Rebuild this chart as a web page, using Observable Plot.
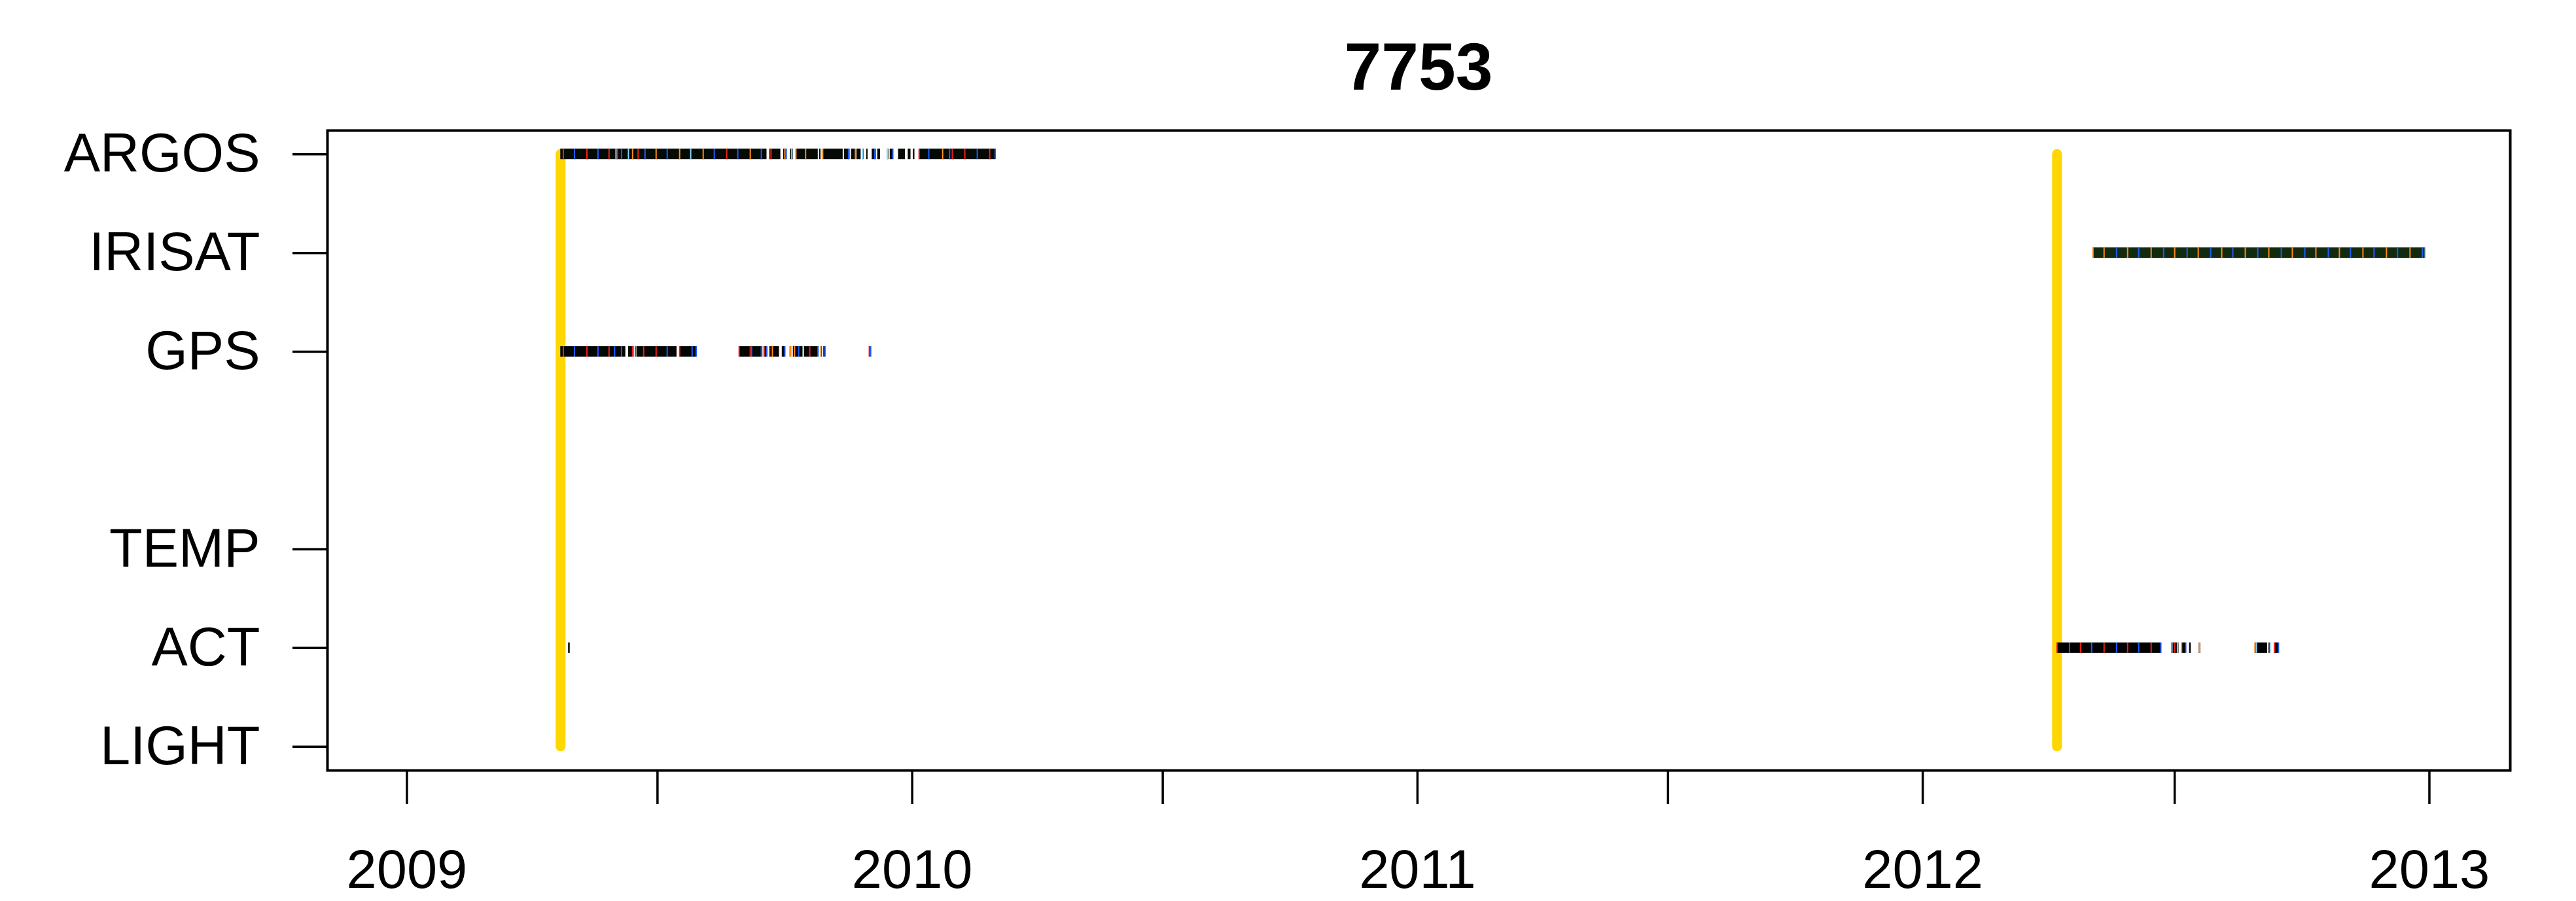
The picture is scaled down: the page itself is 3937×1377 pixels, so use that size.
<!DOCTYPE html>
<html>
<head>
<meta charset="utf-8">
<script src="https://cdn.jsdelivr.net/npm/d3@7"></script>
<script src="https://cdn.jsdelivr.net/npm/@observablehq/plot@0.6"></script>
<style>
  html, body { margin: 0; padding: 0; background: #ffffff; }
  #title { position: relative; width: 3937px; height: 160px; font-family: "Liberation Sans", Arial, sans-serif; }
  #title span { position: absolute; left: 500px; width: 3336px; top: 51px; text-align: center;
                font-weight: bold; font-size: 102px; line-height: 102px; color: #000; }
  #chart svg { display: block; }
</style>
</head>
<body>
<div id="title"><span>7753</span></div>
<div id="chart"></div>
<script>
// ---------------- data ----------------
const titleText = "7753";
const levelValues = [1, 2, 3, 5, 6, 7];
const levelLabels = ["LIGHT", "ACT", "TEMP", "GPS", "IRISAT", "ARGOS"];
const xLimits = ["2009-01-02", "2013-01-01"];
const xTickDates = ["2009-01-01", "2009-07-01", "2010-01-01", "2010-07-01", "2011-01-01",
                    "2011-07-01", "2012-01-01", "2012-07-01", "2013-01-01"];
const deployments = ["2009-04-22", "2012-04-07"];

// recording periods (start, end) per sensor
const argosBlocks = [
  ["2009-04-22", "2009-09-18"], ["2009-09-20", "2009-09-28"], ["2009-09-30", "2009-10-02"],
  ["2009-10-05", "2009-10-07"], ["2009-10-09", "2009-10-25"], ["2009-10-26", "2009-10-27"],
  ["2009-10-29", "2009-11-12"], ["2009-11-13", "2009-11-17"], ["2009-11-18", "2009-11-21"],
  ["2009-11-22", "2009-11-25"], ["2009-11-26", "2009-11-27"], ["2009-11-29", "2009-11-30"],
  ["2009-12-03", "2009-12-06"], ["2009-12-07", "2009-12-09"], ["2009-12-14", "2009-12-15"],
  ["2009-12-16", "2009-12-18"], ["2009-12-22", "2009-12-27"], ["2009-12-29", "2009-12-31"],
  ["2010-01-06", "2010-03-02"]
];
const irisatBlocks = [["2012-05-03", "2012-12-29"]];
const gpsBlocks = [
  ["2009-04-22", "2009-06-08"], ["2009-06-10", "2009-06-14"], ["2009-06-16", "2009-07-15"],
  ["2009-07-17", "2009-07-29"], ["2009-08-29", "2009-09-15"], ["2009-09-16", "2009-09-18"],
  ["2009-09-20", "2009-09-27"], ["2009-09-29", "2009-10-01"], ["2009-10-07", "2009-10-14"],
  ["2009-10-15", "2009-10-25"], ["2009-10-27", "2009-10-28"], ["2009-10-29", "2009-10-30"],
  ["2009-12-01", "2009-12-02"]
];
const actBlocks = [
  ["2012-04-07", "2012-06-21"], ["2012-07-01", "2012-07-04"], ["2012-07-06", "2012-07-09"],
  ["2012-08-28", "2012-09-06"], ["2012-09-07", "2012-09-08"], ["2012-09-11", "2012-09-14"]
];

// isolated single records per sensor
const argosSingles = ["2010-01-02"];
const gpsSingles = ["2009-10-05"];
const actSingles = ["2009-04-28", "2012-06-29", "2012-06-30", "2012-07-12", "2012-07-19"];

// coloured records (date, colour class) per sensor
const argosColored = [
  ["2009-04-24","red"],["2009-05-02","blue"],["2009-05-11","red"],["2009-05-19","blue"],
  ["2009-05-27","red"],["2009-06-01","light"],["2009-06-02","red"],["2009-06-05","blue"],
  ["2009-06-10","light"],["2009-06-13","orange"],["2009-06-17","red"],["2009-06-22","blue"],
  ["2009-06-30","orange"],["2009-07-08","blue"],["2009-07-17","orange"],["2009-07-25","light"],
  ["2009-08-03","orange"],["2009-08-11","blue"],["2009-08-20","red"],["2009-08-28","blue"],
  ["2009-09-06","orange"],["2009-09-14","blue"],["2009-09-21","red"],["2009-10-01","orange"],
  ["2009-10-02","blue"],["2009-10-06","light"],["2009-10-09","orange"],["2009-10-16","orange"],
  ["2009-10-28","orange"],["2009-11-16","blue"],["2009-11-21","orange"],["2009-11-26","light"],
  ["2009-12-05","blue"],["2009-12-14","light"],["2009-12-18","blue"],
  ["2010-01-06","red"],["2010-01-13","blue"],["2010-01-23","orange"],["2010-01-28","blue"],
  ["2010-01-30","red"],["2010-02-08","red"],["2010-02-17","blue"],["2010-02-26","red"],
  ["2010-03-02","blue"]
];
const irisatColored = [
  ["2012-05-03","orange"],["2012-05-11","orange"],["2012-05-20","blue"],["2012-05-28","orange"],
  ["2012-06-05","blue"],["2012-06-14","orange"],["2012-06-23","blue"],["2012-07-01","orange"],
  ["2012-07-10","blue"],["2012-07-18","orange"],["2012-07-27","blue"],["2012-08-04","orange"],
  ["2012-08-12","blue"],["2012-08-21","orange"],["2012-08-30","blue"],["2012-09-07","orange"],
  ["2012-09-16","blue"],["2012-09-24","orange"],["2012-10-03","blue"],["2012-10-11","orange"],
  ["2012-10-20","blue"],["2012-10-28","orange"],["2012-11-05","blue"],["2012-11-14","orange"],
  ["2012-11-22","blue"],["2012-12-01","orange"],["2012-12-09","blue"],["2012-12-18","orange"],
  ["2012-12-27","blue"],["2012-12-29","light"]
];
const gpsColored = [
  ["2009-04-24","red"],["2009-05-02","blue"],["2009-05-11","red"],["2009-05-19","blue"],
  ["2009-05-27","red"],["2009-05-31","blue"],["2009-06-05","blue"],["2009-06-13","red"],
  ["2009-06-15","blue"],["2009-06-21","red"],["2009-06-30","red"],["2009-07-08","blue"],
  ["2009-07-17","red"],["2009-07-26","blue"],["2009-07-29","blue"],["2009-08-29","red"],
  ["2009-09-06","red"],["2009-09-07","blue"],["2009-09-14","blue"],["2009-09-16","red"],
  ["2009-09-18","blue"],["2009-09-20","red"],["2009-09-22","orange"],["2009-10-01","blue"],
  ["2009-10-05","orange"],["2009-10-08","orange"],["2009-10-11","blue"],["2009-10-19","red"],
  ["2009-10-25","blue"],["2009-10-27","orange"],["2009-10-30","blue"],["2009-12-01","red"],
  ["2009-12-02","blue"]
];
const actColored = [
  ["2012-04-07","red"],["2012-04-16","blue"],["2012-04-24","red"],["2012-05-02","blue"],
  ["2012-05-11","red"],["2012-05-20","blue"],["2012-05-28","red"],["2012-06-05","blue"],
  ["2012-06-14","red"],["2012-06-21","blue"],["2012-06-29","light"],["2012-07-01","red"],
  ["2012-07-03","light"],["2012-07-06","orange"],["2012-07-09","blue"],["2012-07-19","orange"],
  ["2012-08-28","orange"],["2012-08-29","light"],["2012-09-08","light"],["2012-09-11","red"],
  ["2012-09-14","blue"]
];

// ---------------- build tables ----------------
const parse = d3.utcParse("%Y-%m-%d");
const levelOf = Object.fromEntries(levelLabels.map((l, i) => [l, levelValues[i]]));
const half = 0.053;           // half height of a record tick, in level units
const sensors = [
  {name: "ARGOS",  blocks: argosBlocks,  singles: argosSingles, colored: argosColored,  fill: "#040a04"},
  {name: "IRISAT", blocks: irisatBlocks, singles: [],           colored: irisatColored, fill: "#122b0e"},
  {name: "GPS",    blocks: gpsBlocks,    singles: gpsSingles,   colored: gpsColored,    fill: "#030603"},
  {name: "ACT",    blocks: actBlocks,    singles: actSingles,   colored: actColored,    fill: "#000000"}
];
const blockRows = sensors.flatMap(s => s.blocks.map(([a, b]) =>
  ({level: levelOf[s.name], start: parse(a), end: parse(b), fill: s.fill})));
const singleRows = sensors.flatMap(s => s.singles.map(a => ({level: levelOf[s.name], date: parse(a)})));
const coloredRows = sensors.flatMap(s => s.colored.map(([a, c]) =>
  ({level: levelOf[s.name], date: parse(a), col: c})));
const palette = {red: "#EE2211", blue: "#1f5cff", orange: "#ff8c1a", light: "#8fd0f5"};

// R-style 4% axis extension
const x0 = parse(xLimits[0]), x1 = parse(xLimits[1]);
const xs = +x1 - +x0;
const xDomain = [new Date(+x0 - 0.04 * xs), new Date(+x1 + 0.04 * xs)];
const yMin = 1, yMax = 7, ys = yMax - yMin;
const yDomain = [yMin - 0.04 * ys, yMax + 0.04 * ys];

document.querySelector("#title span").textContent = titleText;

const chart = Plot.plot({
  width: 3937,
  height: 1217,
  marginTop: 39,
  marginBottom: 200,
  marginLeft: 500,
  marginRight: 101,
  x: {type: "utc", domain: xDomain},
  y: {type: "linear", domain: yDomain},
  style: {fontFamily: '"Liberation Sans", Arial, sans-serif', background: "#ffffff", color: "#000000"},
  marks: [
    Plot.ruleX(deployments, {x: d => parse(d), y1: yMin, y2: yMax, stroke: "#FFD700",
                             strokeWidth: 15, strokeLinecap: "round"}),
    Plot.rect(blockRows, {x1: "start", x2: "end", y1: d => d.level - half, y2: d => d.level + half,
                          fill: d => d.fill}),
    Plot.ruleX(singleRows, {x: "date", y1: d => d.level - half, y2: d => d.level + half,
                            stroke: "#000000", strokeWidth: 2.5}),
    ...Object.keys(palette).map(k =>
      Plot.ruleX(coloredRows.filter(r => r.col === k),
                 {x: "date", y1: d => d.level - half, y2: d => d.level + half,
                  stroke: palette[k], strokeWidth: 2})),
    Plot.frame({stroke: "#000000", strokeWidth: 4}),
    Plot.axisX({ticks: xTickDates.map(parse),
                tickFormat: d => d.getUTCMonth() === 0 ? String(d.getUTCFullYear()) : "",
                tickSize: 52, tickPadding: 69, fontSize: 83, strokeWidth: 3.5, label: null}),
    Plot.axisY({ticks: levelValues,
                tickFormat: v => levelLabels[levelValues.indexOf(v)],
                tickSize: 53, tickPadding: 50, fontSize: 83, strokeWidth: 3.5, label: null})
  ]
});
document.getElementById("chart").appendChild(chart);
</script>
</body>
</html>
